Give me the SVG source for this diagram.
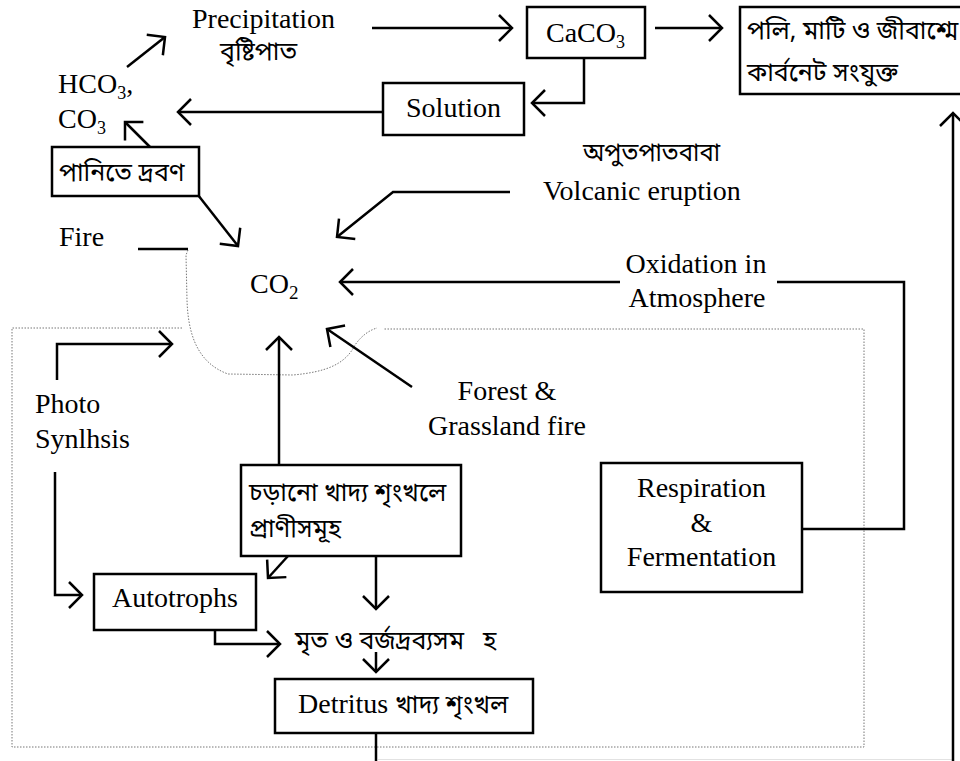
<svg xmlns="http://www.w3.org/2000/svg" width="960" height="761" viewBox="0 0 960 761">
<style>
.t{font-family:"Liberation Serif","Times New Roman",serif;font-size:28px;fill:#000}
.b{font-family:"Noto Sans Bengali","Noto Serif Bengali","Lohit Bengali","FreeSerif",sans-serif;font-size:25px;fill:#000}
.box{fill:#fff;stroke:#000;stroke-width:2.5}
.ln{fill:none;stroke:#000;stroke-width:2.5}
.dot{fill:none;stroke:#777;stroke-width:1;stroke-dasharray:1.5 1.5}
</style>
<defs>
<marker id="ah" markerUnits="userSpaceOnUse" markerWidth="40" markerHeight="40" refX="0" refY="0" orient="auto" viewBox="-20 -20 40 40" overflow="visible">
<path d="M-13,-13 L0,0 L-13,13" fill="none" stroke="#000" stroke-width="2.5"/>
</marker>
</defs>
<rect width="960" height="761" fill="#fff"/>
<g id="boundary">
<path class="dot" d="M182,328 L12,328 L12,747 L864,747 L864,329 L383,329"/>
<path class="dot" d="M188,250 L186,255 L187,300 C188,330 195,362 228,374 L293,375 C325,372 345,365 355,345 C362,335 370,330 377,328"/>
<line x1="378" y1="759.5" x2="953" y2="759.5" stroke="#e2e2e2" stroke-width="1"/>
</g>
<g id="connectors">
<line class="ln" x1="127" y1="67" x2="165" y2="37" marker-end="url(#ah)"/>
<line class="ln" x1="372" y1="28" x2="512" y2="28" marker-end="url(#ah)"/>
<line class="ln" x1="655" y1="28" x2="722" y2="28" marker-end="url(#ah)"/>
<polyline class="ln" points="584,58 584,103 532,103" marker-end="url(#ah)"/>
<line class="ln" x1="383" y1="112" x2="178" y2="112" marker-end="url(#ah)"/>
<line class="ln" x1="150" y1="147" x2="125" y2="122" marker-end="url(#ah)"/>
<line class="ln" x1="198" y1="195" x2="238" y2="246" marker-end="url(#ah)"/>
<polyline class="ln" points="510,192 393,192 337,237" marker-end="url(#ah)"/>
<line class="ln" x1="138" y1="249" x2="188" y2="249"/>
<line class="ln" x1="620" y1="282" x2="340" y2="282" marker-end="url(#ah)"/>
<polyline class="ln" points="777,282 904,282 904,529 802,529"/>
<line class="ln" x1="953" y1="761" x2="953" y2="113" marker-end="url(#ah)"/>
<line class="ln" x1="412" y1="387" x2="327" y2="329" marker-end="url(#ah)"/>
<polyline class="ln" points="57,380 57,344 172,344" marker-end="url(#ah)"/>
<polyline class="ln" points="55,472 55,595 82,595" marker-end="url(#ah)"/>
<line class="ln" x1="279" y1="465" x2="279" y2="337" marker-end="url(#ah)"/>
<line class="ln" x1="288" y1="556" x2="268" y2="578" marker-end="url(#ah)"/>
<line class="ln" x1="376" y1="556" x2="376" y2="609" marker-end="url(#ah)"/>
<polyline class="ln" points="215,630 215,644 280,644" marker-end="url(#ah)"/>
<line class="ln" x1="376" y1="652" x2="376" y2="672" marker-end="url(#ah)"/>
<line class="ln" x1="376" y1="733" x2="376" y2="761"/>
</g>
<g id="precipitation">
<text class="t" x="192" y="28">Precipitation</text>
<text class="b" x="220" y="60" font-size="27">বৃষ্টিপাত</text>
</g>
<g id="caco3">
<rect class="box" x="527" y="7" width="118" height="51"/>
<text class="t" x="546" y="42">CaCO<tspan font-size="18" dy="6">3</tspan></text>
</g>
<g id="sediment">
<rect class="box" x="740" y="7" width="240" height="87"/>
<text class="b" x="747" y="39">পলি, মাটি ও জীবাশ্মে</text>
<text class="b" x="747" y="81">কার্বনেট সংযুক্ত</text>
</g>
<g id="solution">
<rect class="box" x="383" y="83" width="141" height="52"/>
<text class="t" x="453.5" y="117" text-anchor="middle">Solution</text>
</g>
<g id="hco3">
<text class="t" x="58" y="93">HCO<tspan font-size="18" dy="6">3</tspan><tspan dy="-6">,</tspan></text>
<text class="t" x="58" y="128">CO<tspan font-size="18" dy="6">3</tspan></text>
</g>
<g id="dissolve">
<rect class="box" x="52" y="147" width="147" height="49"/>
<text class="b" x="59" y="181">পানিতে দ্রবণ</text>
</g>
<g id="fire">
<text class="t" x="59" y="246">Fire</text>
</g>
<g id="volcanic">
<text class="b" x="583" y="161" textLength="137" lengthAdjust="spacingAndGlyphs">অপুতপাতবাবা</text>
<text class="t" x="543" y="200">Volcanic eruption</text>
</g>
<g id="co2">
<text class="t" x="250" y="293" font-size="30">CO<tspan font-size="19" dy="6">2</tspan></text>
</g>
<g id="oxidation">
<text class="t" x="696" y="273" text-anchor="middle">Oxidation in</text>
<text class="t" x="697" y="307" text-anchor="middle">Atmosphere</text>
</g>
<g id="photosynthesis">
<text class="t" x="35" y="413">Photo</text>
<text class="t" x="35" y="448">Synlhsis</text>
</g>
<g id="forestfire">
<text class="t" x="507" y="400" text-anchor="middle">Forest &amp;</text>
<text class="t" x="507" y="435" text-anchor="middle">Grassland fire</text>
</g>
<g id="grazers">
<rect class="box" x="241" y="465" width="220" height="91"/>
<text class="b" x="249" y="501" font-size="23.5">চড়ানো খাদ্য শৃংখলে</text>
<text class="b" x="249" y="537" font-size="23.5">প্রাণীসমূহ</text>
</g>
<g id="respiration">
<rect class="box" x="601" y="463" width="201" height="129"/>
<text class="t" x="701.5" y="497" text-anchor="middle">Respiration</text>
<text class="t" x="701.5" y="532" text-anchor="middle">&amp;</text>
<text class="t" x="701.5" y="566" text-anchor="middle">Fermentation</text>
</g>
<g id="autotrophs">
<rect class="box" x="94" y="574" width="162" height="56"/>
<text class="t" x="175" y="607" text-anchor="middle">Autotrophs</text>
</g>
<g id="dead">
<text class="b" x="295" y="649" font-size="25.5">মৃত ও বর্জদ্রব্যসম</text>
<text class="b" x="483" y="649" font-size="25.5">হ</text>
</g>
<g id="detritus">
<rect class="box" x="275" y="679" width="258" height="54"/>
<text class="t" x="298" y="713">Detritus <tspan class="b" font-size="25.5">খাদ্য শৃংখল</tspan></text>
</g>
</svg>
